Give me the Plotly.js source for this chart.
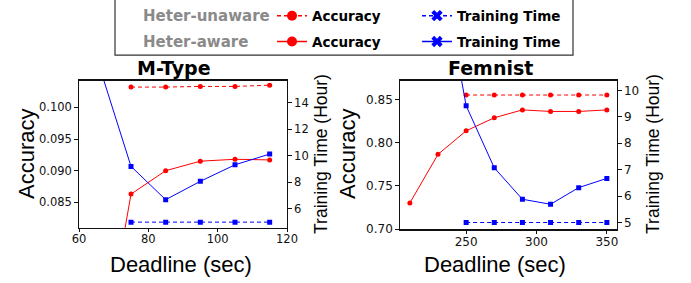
<!DOCTYPE html>
<html>
<head>
<meta charset="utf-8">
<script src="https://cdn.plot.ly/plotly-3.0.1.min.js"></script>
<style>html,body{margin:0;padding:0;background:#fff;}#chart{width:691px;height:283px;}</style>
</head>
<body>
<div id="chart"></div>
<script>
// ---- M-Type data ----
const mtypeDeadlineAware = [65, 75, 85, 95, 105, 115];
const mtypeAccAware = [0.055, 0.0863, 0.0900, 0.0915, 0.0918, 0.0917];
const mtypeTimeAware = [17.5, 9.2, 6.68, 8.07, 9.32, 10.13];
const mtypeDeadlineUnaware = [75, 85, 95, 105, 115];
const mtypeAccUnaware = [0.1032, 0.1032, 0.1033, 0.1033, 0.1035];
const mtypeTimeUnaware = [4.98, 4.98, 4.98, 4.98, 4.98];

// ---- Femnist data ----
const femAccDeadline = [210, 230, 250, 270, 290, 310, 330, 350];
const femAccAware = [0.7303, 0.7864, 0.8136, 0.8287, 0.8378, 0.836, 0.836, 0.8378];
const femTimeDeadline = [230, 250, 270, 290, 310, 330, 350];
const femTimeAware = [15.3, 9.42, 7.07, 5.88, 5.69, 6.32, 6.67];
const femDeadlineUnaware = [250, 270, 290, 310, 330, 350];
const femAccUnaware = [0.855, 0.855, 0.855, 0.855, 0.855, 0.855];
const femTimeUnaware = [5.0, 5.0, 5.0, 5.0, 5.0, 5.0];

// ---- text ----
const titles = ["M-Type", "Femnist"];
const xTitle = "Deadline (sec)";
const yTitleL = "Accuracy";
const yTitleR = "Training Time (Hour)";
const groupLabels = ["Heter-unaware", "Heter-aware"];
const seriesNames = ["Accuracy", "Training Time"];

const W = 691, H = 283;
const px = v => v / W;
const py = v => 1 - v / H;

const RED = "#ff0000", BLUE = "#0000ff";
const DASH = "4px,3px";

function line(x, y, xa, ya, color, dash, symbol) {
  return {
    x: x, y: y, xaxis: xa, yaxis: ya, type: "scatter", mode: "lines+markers",
    line: {color: color, width: 1, dash: dash, simplify: false},
    marker: {color: color, size: 5, symbol: symbol},
    showlegend: false, hoverinfo: "skip", cliponaxis: true
  };
}
function legendItem(name, color, dash, symbol, legend) {
  return {
    x: [null], y: [null], xaxis: "x", yaxis: "y", type: "scatter", mode: "lines+markers",
    name: name, legend: legend, showlegend: true,
    line: {color: color, width: 1.6, dash: dash},
    marker: {color: color, size: 10, symbol: symbol}
  };
}

const data = [
  line(mtypeDeadlineUnaware, mtypeAccUnaware, "x", "y", RED, DASH, "circle"),
  line(mtypeDeadlineAware, mtypeAccAware, "x", "y", RED, "solid", "circle"),
  line(mtypeDeadlineUnaware, mtypeTimeUnaware, "x", "y2", BLUE, DASH, "square"),
  line(mtypeDeadlineAware, mtypeTimeAware, "x", "y2", BLUE, "solid", "square"),
  line(femDeadlineUnaware, femAccUnaware, "x2", "y3", RED, DASH, "circle"),
  line(femAccDeadline, femAccAware, "x2", "y3", RED, "solid", "circle"),
  line(femDeadlineUnaware, femTimeUnaware, "x2", "y4", BLUE, DASH, "square"),
  line(femTimeDeadline, femTimeAware, "x2", "y4", BLUE, "solid", "square"),
  legendItem(seriesNames[0], RED, DASH, "circle", "legend"),
  legendItem(seriesNames[1], BLUE, DASH, "x", "legend"),
  legendItem(seriesNames[0], RED, "solid", "circle", "legend2"),
  legendItem(seriesNames[1], BLUE, "solid", "x", "legend2")
];

const axBase = {
  showline: true, linecolor: "#111", linewidth: 1.3,
  ticks: "outside", ticklen: 3.5, tickwidth: 1, tickcolor: "#111",
  showgrid: false, zeroline: false, fixedrange: true
};
const tf1 = {family: "DejaVu Sans", size: 11.5, color: "#111"};
const tf2 = {family: "DejaVu Sans", size: 12, color: "#111"};

const yDomL = [(H - 227.3) / H, (H - 79.3) / H];
const yDomR = [(H - 229) / H, (H - 79.3) / H];

const legendFont = {family: "DejaVu Sans", size: 13.5, color: "#000", weight: "bold"};

const layout = {
  width: W, height: H,
  margin: {l: 0, r: 0, t: 0, b: 0},
  paper_bgcolor: "#fff", plot_bgcolor: "#fff",
  xaxis: Object.assign({}, axBase, {domain: [px(79), px(287)], range: [60, 120], tickvals: [60, 80, 100, 120], mirror: true, tickfont: tf1, anchor: "y", ticklabelstandoff: -3}),
  yaxis: Object.assign({}, axBase, {domain: yDomL, range: [0.0810, 0.1042], tickvals: [0.085, 0.090, 0.095, 0.100], tickformat: ".3f", tickfont: tf1, anchor: "x"}),
  yaxis2: Object.assign({}, axBase, {domain: yDomL, range: [4.56, 15.68], tickvals: [6, 8, 10, 12, 14], side: "right", overlaying: "y", tickfont: tf1, anchor: "x"}),
  xaxis2: Object.assign({}, axBase, {domain: [px(400), px(616.7)], range: [203, 357], tickvals: [250, 300, 350], mirror: true, tickfont: tf2, anchor: "y3", ticklabelstandoff: -3}),
  yaxis3: Object.assign({}, axBase, {domain: yDomR, range: [0.6997, 0.8715], tickvals: [0.70, 0.75, 0.80, 0.85], tickformat: ".2f", tickfont: tf2, anchor: "x2"}),
  yaxis4: Object.assign({}, axBase, {domain: yDomR, range: [4.74, 10.365], tickvals: [5, 6, 7, 8, 9, 10], side: "right", overlaying: "y3", tickfont: tf2, anchor: "x2"}),
  legend: {
    x: px(272), xanchor: "left", y: py(14), yanchor: "middle", orientation: "h",
    entrywidth: 100, entrywidthmode: "pixels", bgcolor: "rgba(0,0,0,0)", borderwidth: 0,
    font: legendFont
  },
  legend2: {
    x: px(272), xanchor: "left", y: py(40), yanchor: "middle", orientation: "h",
    entrywidth: 100, entrywidthmode: "pixels", bgcolor: "rgba(0,0,0,0)", borderwidth: 0,
    font: legendFont
  },
  shapes: [
    {type: "rect", xref: "paper", yref: "paper", x0: px(115), x1: px(573), y0: py(53.5), y1: py(-5),
     line: {color: "#333", width: 1.2}, fillcolor: "rgba(0,0,0,0)", layer: "below"}
  ],
  annotations: [
    {text: groupLabels[0], x: px(141), y: py(14), xref: "paper", yref: "paper", xanchor: "left", yanchor: "middle", showarrow: false,
     font: {family: "DejaVu Sans", size: 15, color: "#8a8a8a", weight: "bold"}},
    {text: groupLabels[1], x: px(141), y: py(40), xref: "paper", yref: "paper", xanchor: "left", yanchor: "middle", showarrow: false,
     font: {family: "DejaVu Sans", size: 15, color: "#8a8a8a", weight: "bold"}},
    {text: titles[0], x: px(174), y: py(66), xref: "paper", yref: "paper", xanchor: "center", yanchor: "middle", showarrow: false,
     font: {family: "DejaVu Sans", size: 19, color: "#000", weight: "bold"}},
    {text: titles[1], x: px(490), y: py(66), xref: "paper", yref: "paper", xanchor: "center", yanchor: "middle", showarrow: false,
     font: {family: "DejaVu Sans", size: 19, color: "#000", weight: "bold"}},
    {text: yTitleL, x: px(27), y: py(153), xref: "paper", yref: "paper", xanchor: "center", yanchor: "middle", textangle: -90, showarrow: false,
     font: {family: "Liberation Sans", size: 22, color: "#000"}},
    {text: yTitleL, x: px(348), y: py(153), xref: "paper", yref: "paper", xanchor: "center", yanchor: "middle", textangle: -90, showarrow: false,
     font: {family: "Liberation Sans", size: 22, color: "#000"}},
    {text: yTitleR, x: px(321), y: py(153), xref: "paper", yref: "paper", xanchor: "center", yanchor: "middle", textangle: -90, showarrow: false,
     font: {family: "Liberation Sans", size: 17.5, color: "#000"}},
    {text: yTitleR, x: px(653), y: py(153), xref: "paper", yref: "paper", xanchor: "center", yanchor: "middle", textangle: -90, showarrow: false,
     font: {family: "Liberation Sans", size: 17.5, color: "#000"}},
    {text: xTitle, x: px(181), y: py(264.5), xref: "paper", yref: "paper", xanchor: "center", yanchor: "middle", showarrow: false,
     font: {family: "Liberation Sans", size: 22, color: "#000"}},
    {text: xTitle, x: px(495), y: py(264.5), xref: "paper", yref: "paper", xanchor: "center", yanchor: "middle", showarrow: false,
     font: {family: "Liberation Sans", size: 22, color: "#000"}}
  ]
};

Plotly.newPlot("chart", data, layout, {staticPlot: true, displayModeBar: false});
</script>
</body>
</html>
